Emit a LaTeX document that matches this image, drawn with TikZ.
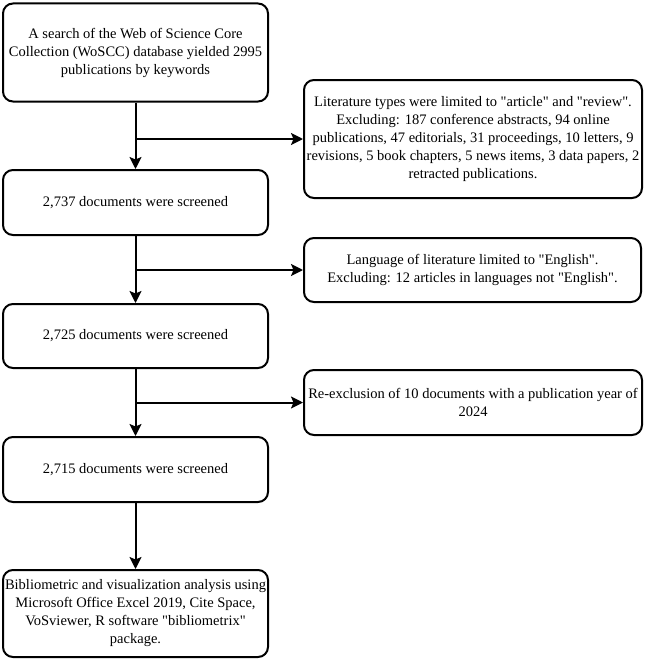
\documentclass[tikz,border=0pt]{standalone}
\usepackage{fontspec}
\setmainfont{Liberation Serif}[Ligatures=TeXOff]
\usetikzlibrary{arrows.meta}
\begin{document}
\begin{tikzpicture}[x=1pt,y=-1pt,
  box/.style={draw=black, line width=2pt, rounded corners=10pt, align=center,
    inner sep=0pt, font=\fontsize{14.5}{18}\selectfont},
  arr/.style={draw=black, line width=2pt, -{Stealth[length=12pt,width=12pt,inset=2.5pt]}}]
\fill[white] (0,0) rectangle (646,661);
\useasboundingbox (0,0) rectangle (646,661);
\node[box, minimum width=265pt, minimum height=98pt] (b1) at (135.5,52.5)
  {A search of the Web of Science Core\\Collection (WoSCC) database yielded 2995\\publications by keywords};
\node[box, minimum width=338pt, minimum height=118pt] (r1) at (473,139)
  {Literature types were limited to "article" and "review".\\Excluding: 187 conference abstracts, 94 online\\publications, 47 editorials, 31 proceedings, 10 letters, 9\\revisions, 5 book chapters, 5 news items, 3 data papers, 2\\retracted publications.};
\node[box, minimum width=265pt, minimum height=65pt] (b2) at (135.5,202.5)
  {2,737 documents were screened};
\node[box, minimum width=337pt, minimum height=64pt] (r2) at (472.5,270)
  {Language of literature limited to "English".\\Excluding: 12 articles in languages not "English".};
\node[box, minimum width=265pt, minimum height=64pt] (b3) at (135.5,336)
  {2,725 documents were screened};
\node[box, minimum width=338pt, minimum height=65pt] (r3) at (473,402.5)
  {Re-exclusion of 10 documents with a publication year of\\2024};
\node[box, minimum width=265pt, minimum height=65pt] (b4) at (135.5,469.5)
  {2,715 documents were screened};
\node[box, minimum width=265pt, minimum height=87pt] (b5) at (135.5,613.5)
  {Bibliometric and visualization analysis using\\Microsoft Office Excel 2019, Cite Space,\\VoSviewer, R software "bibliometrix"\\package.};
\coordinate (j1) at (b1.south |- r1.west);
\coordinate (j2) at (b2.south |- r2.west);
\coordinate (j3) at (b3.south |- r3.west);
\draw[arr] (b1.south) -- (b2.north);
\draw[arr] (j1) -- (r1.west);
\draw[arr] (b2.south) -- (b3.north);
\draw[arr] (j2) -- (r2.west);
\draw[arr] (b3.south) -- (b4.north);
\draw[arr] (j3) -- (r3.west);
\draw[arr] (b4.south) -- (b5.north);
\end{tikzpicture}
\end{document}
